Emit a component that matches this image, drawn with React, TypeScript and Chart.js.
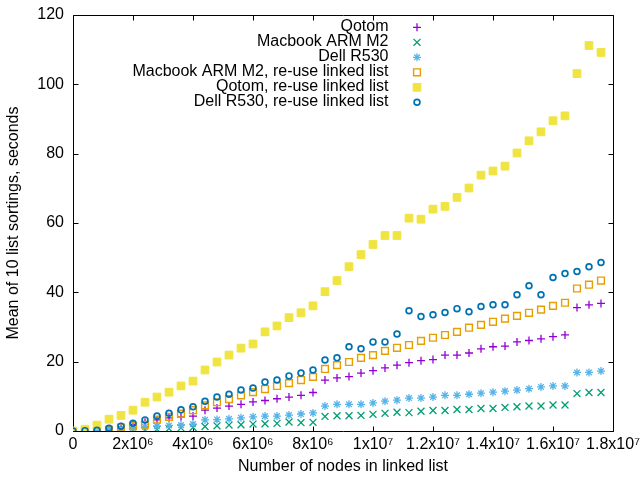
import React, { useEffect, useRef } from 'react';
import { Chart, registerables } from 'chart.js';
import { drawPoint } from 'chart.js/helpers';

Chart.register(...registerables);

// ---- data ----
const nodeCounts = [
  0, 400000, 800000, 1200000, 1600000, 2000000, 2400000, 2800000, 3200000, 3600000,
  4000000, 4400000, 4800000, 5200000, 5600000, 6000000, 6400000, 6800000, 7200000, 7600000,
  8000000, 8400000, 8800000, 9200000, 9600000, 10000000, 10400000, 10800000, 11200000, 11600000,
  12000000, 12400000, 12800000, 13200000, 13600000, 14000000, 14400000, 14800000, 15200000, 15600000,
  16000000, 16400000, 16800000, 17200000, 17600000,
];

const qotom = [
  0, 0.1, 0.3, 0.6, 1.2, 1.8, 2.5, 3.2, 3.8, 4.1,
  4.3, 6.0, 6.6, 7.2, 7.7, 8.4, 8.8, 9.3, 9.8, 10.3,
  11.1, 14.7, 15.3, 15.7, 16.7, 17.4, 18.2, 19.0, 19.7, 20.3,
  20.6, 21.9, 21.9, 22.5, 23.7, 24.3, 24.5, 25.7, 26.1, 26.6,
  27.2, 27.7, 35.6, 36.4, 36.8,
];

const macbookM2 = [
  0, 0, 0.05, 0.1, 0.15, 0.2, 0.3, 0.5, 0.7, 0.9,
  1.0, 1.3, 1.5, 1.7, 1.8, 2.0, 2.1, 2.2, 2.6, 2.4,
  2.5, 4.2, 4.4, 4.4, 4.5, 4.8, 5.1, 5.4, 5.3, 5.7,
  5.9, 5.9, 6.2, 6.2, 6.5, 6.5, 6.8, 7.0, 7.2, 7.2,
  7.5, 7.5, 10.8, 11.1, 11.1,
];

const dellR530 = [
  0, 0.1, 0.2, 0.4, 0.7, 0.9, 1.2, 1.4, 1.6, 1.7,
  2.0, 3.2, 3.3, 3.5, 3.8, 4.1, 4.3, 4.3, 4.6, 4.9,
  5.2, 7.2, 7.7, 7.7, 7.7, 8.1, 8.6, 8.9, 9.5, 9.5,
  9.8, 10.3, 10.3, 10.6, 10.9, 11.2, 11.5, 11.8, 12.2, 12.7,
  13.0, 13.0, 16.9, 16.9, 17.3,
];

const macbookM2Reuse = [
  0, 0, 0.05, 0.3, 1.0, 1.4, 1.8, 3.3, 4.1, 5.0,
  6.0, 7.4, 8.3, 9.2, 10.3, 11.2, 12.1, 13.0, 13.8, 14.7,
  15.6, 17.9, 19.0, 19.9, 21.1, 21.9, 23.1, 24.0, 24.8, 26.0,
  26.9, 27.7, 28.6, 29.8, 30.6, 31.5, 32.4, 33.2, 34.1, 35.0,
  36.1, 37.0, 41.1, 42.2, 43.4,
];

const qotomReuse = [
  0, 0.5, 1.7, 3.4, 4.5, 6.0, 8.3, 9.8, 11.2, 13.0,
  14.4, 17.6, 19.9, 21.9, 23.9, 25.1, 28.6, 30.3, 32.7, 34.1,
  36.1, 40.2, 43.4, 47.4, 50.9, 53.8, 56.4, 56.4, 61.4, 61.1,
  64.0, 64.8, 67.4, 70.1, 73.8, 75.0, 76.4, 80.2, 83.7, 86.3,
  89.5, 90.9, 103.1, 111.2, 109.2,
];

const dellR530Reuse = [
  0, 0.1, 0.2, 0.8, 1.4, 2.2, 3.2, 4.3, 5.1, 6.1,
  7.0, 8.6, 9.8, 10.6, 11.8, 12.4, 14.1, 14.7, 15.9, 16.7,
  17.6, 20.5, 21.1, 24.3, 23.7, 25.7, 25.7, 28.0, 34.7, 33.0,
  33.5, 34.2, 35.3, 34.4, 35.9, 36.4, 36.4, 39.3, 41.9, 39.3,
  44.3, 45.4, 46.0, 47.4, 48.6,
];

const seriesLabels = [
  'Qotom',
  'Macbook ARM M2',
  'Dell R530',
  'Macbook ARM M2, re-use linked list',
  'Qotom, re-use linked list',
  'Dell R530, re-use linked list',
];

const xTickValues = [0, 2000000, 4000000, 6000000, 8000000, 10000000, 12000000, 14000000, 16000000, 18000000];
const xTickLabels = ['0', '2x10⁶', '4x10⁶', '6x10⁶', '8x10⁶', '1x10⁷', '1.2x10⁷', '1.4x10⁷', '1.6x10⁷', '1.8x10⁷'];
const yTickValues = [0, 20, 40, 60, 80, 100, 120];

const xTitle = 'Number of nodes in linked list';
const yTitle = 'Mean of 10 list sortings, seconds';

const FONT = '"Liberation Sans", Arial, sans-serif';

function toPoints(values: number[]) {
  return values.map((v, i) => ({ x: nodeCounts[i], y: v }));
}

const gnuplotFrame = {
  id: 'gnuplotFrame',
  beforeDatasetsDraw(chart: any) {
    const { ctx, chartArea } = chart;
    const xs = chart.scales.x;
    const ys = chart.scales.y;
    const L = Math.round(chartArea.left) + 0.5;
    const R = Math.round(chartArea.right) + 0.5;
    const T = Math.round(chartArea.top) + 0.5;
    const B = Math.round(chartArea.bottom) + 0.5;
    const tl = 5;
    ctx.save();
    ctx.strokeStyle = '#000';
    ctx.lineWidth = 1;
    ctx.beginPath();
    xTickValues.forEach((v) => {
      const px = Math.round(xs.getPixelForValue(v)) + 0.5;
      ctx.moveTo(px, B);
      ctx.lineTo(px, B - tl);
      ctx.moveTo(px, T);
      ctx.lineTo(px, T + tl);
    });
    yTickValues.forEach((v) => {
      const py = Math.round(ys.getPixelForValue(v)) + 0.5;
      ctx.moveTo(L, py);
      ctx.lineTo(L + tl, py);
      ctx.moveTo(R, py);
      ctx.lineTo(R - tl, py);
    });
    ctx.stroke();
    ctx.beginPath();
    ctx.rect(L, T, R - L, B - T);
    ctx.stroke();
    ctx.restore();
  },
};

const gnuplotKey = {
  id: 'gnuplotKey',
  afterDatasetsDraw(chart: any) {
    const { ctx, chartArea } = chart;
    const textRight = chartArea.right - 224.5;
    const markX = chartArea.right - 196;
    ctx.save();
    ctx.font = '16px ' + FONT;
    ctx.textAlign = 'right';
    ctx.textBaseline = 'alphabetic';
    chart.data.datasets.forEach((ds: any, i: number) => {
      const base = chartArea.top + 16 + 15 * i;
      ctx.fillStyle = '#000';
      ctx.fillText(ds.label, textRight, base);
      ctx.fillStyle = ds.pointBackgroundColor;
      ctx.strokeStyle = ds.pointBorderColor;
      ctx.lineWidth = ds.pointBorderWidth;
      drawPoint(ctx, {
        pointStyle: ds.pointStyle,
        radius: ds.pointRadius,
        borderWidth: ds.pointBorderWidth,
        rotation: 0,
      } as any, markX, chartArea.top + 12.3 + 15 * i);
    });
    ctx.restore();
  },
};

export default function App() {
  const canvasRef = useRef<HTMLCanvasElement | null>(null);

  useEffect(() => {
    const canvas = canvasRef.current;
    if (!canvas) return;

    const styles = [
      { style: 'cross', r: 4, color: '#9400d3', bg: '#9400d3', bw: 1.3 },
      { style: 'crossRot', r: 4.9, color: '#009e73', bg: '#009e73', bw: 1.3 },
      { style: 'star', r: 4, color: '#56b4e9', bg: '#56b4e9', bw: 1.3 },
      { style: 'rect', r: 4.8, color: '#e69f00', bg: 'rgba(0,0,0,0)', bw: 1.4 },
      { style: 'rect', r: 5.5, color: '#f0e442', bg: '#f0e442', bw: 1 },
      { style: 'circle', r: 2.9, color: '#0072b2', bg: 'rgba(0,0,0,0)', bw: 1.7 },
    ];
    const series = [qotom, macbookM2, dellR530, macbookM2Reuse, qotomReuse, dellR530Reuse];

    const chart = new Chart(canvas, {
      type: 'scatter',
      data: {
        datasets: series.map((values, i) => ({
          label: seriesLabels[i],
          data: toPoints(values),
          pointStyle: styles[i].style as any,
          pointRadius: styles[i].r,
          pointHoverRadius: styles[i].r,
          pointBorderWidth: styles[i].bw,
          pointBorderColor: styles[i].color,
          pointBackgroundColor: styles[i].bg,
          borderColor: styles[i].color,
          backgroundColor: styles[i].bg,
          order: series.length - 1 - i,
        })),
      },
      options: {
        responsive: false,
        animation: false,
        events: [],
        layout: { padding: { top: 15, right: 27, bottom: 0, left: 0 } },
        plugins: {
          legend: { display: false },
          tooltip: { enabled: false },
        },
        scales: {
          x: {
            type: 'linear',
            min: 0,
            max: 18000000,
            grid: { display: false, drawTicks: false },
            border: { display: false },
            afterBuildTicks: (scale: any) => {
              scale.ticks = xTickValues.map((v) => ({ value: v }));
            },
            afterFit: (scale: any) => {
              scale.height = 49;
              scale.paddingLeft = 0;
              scale.paddingRight = 0;
            },
            ticks: {
              autoSkip: false,
              maxRotation: 0,
              minRotation: 0,
              padding: 4,
              color: '#000',
              font: { family: FONT, size: 16 },
              callback: (value: any, index: number) => xTickLabels[index],
            },
            title: {
              display: true,
              text: xTitle,
              color: '#000',
              font: { family: FONT, size: 16 },
              padding: { top: 4, bottom: 4 },
            },
          },
          y: {
            type: 'linear',
            min: 0,
            max: 120,
            grid: { display: false, drawTicks: false },
            border: { display: false },
            afterBuildTicks: (scale: any) => {
              scale.ticks = yTickValues.map((v) => ({ value: v }));
            },
            afterFit: (scale: any) => {
              scale.width = 73;
              scale.paddingTop = 0;
              scale.paddingBottom = 0;
            },
            ticks: {
              padding: 9,
              color: '#000',
              font: { family: FONT, size: 16 },
              callback: (value: any) => String(value),
            },
            title: {
              display: true,
              text: yTitle,
              color: '#000',
              font: { family: FONT, size: 16 },
              padding: { top: 4, bottom: 4 },
            },
          },
        },
      },
      plugins: [gnuplotFrame, gnuplotKey],
    } as any);

    return () => chart.destroy();
  }, []);

  return (
    <div style={{ position: 'fixed', left: 0, top: 0, width: 640, height: 480, background: '#fff' }}>
      <canvas ref={canvasRef} width={640} height={480} style={{ width: 640, height: 480, display: 'block' }} />
    </div>
  );
}
